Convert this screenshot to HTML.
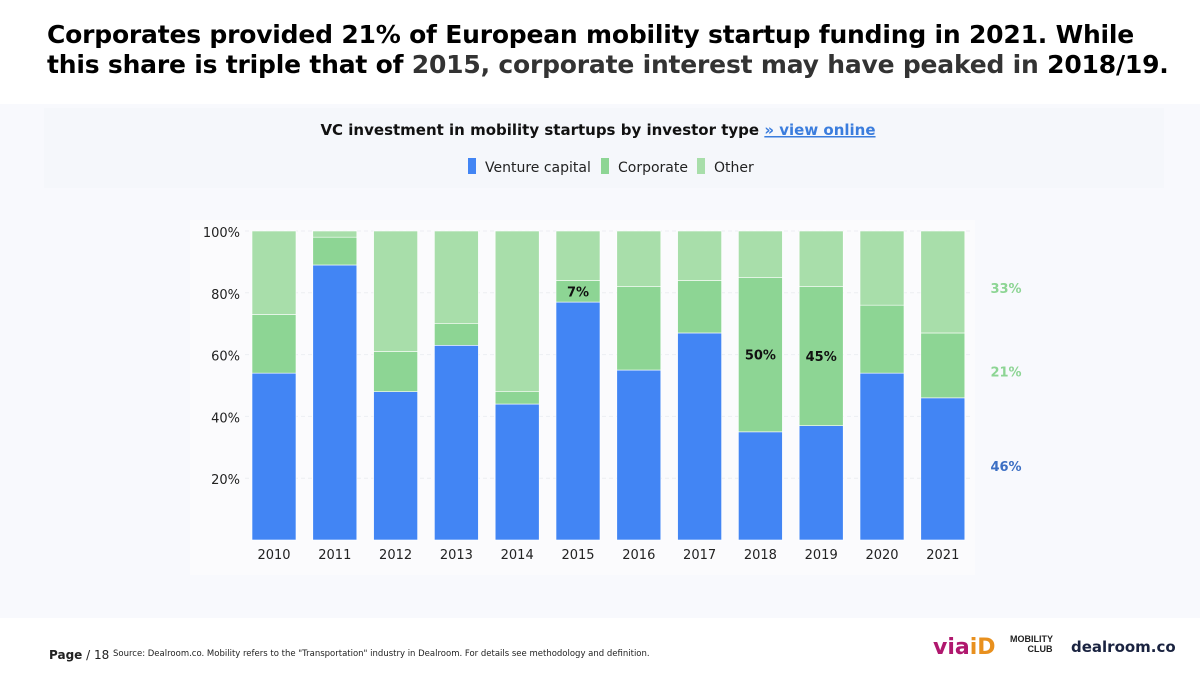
<!DOCTYPE html>
<html><head><meta charset="utf-8"><style>
body{margin:0;width:1200px;height:675px;overflow:hidden;background:#f8f9fd;font-family:"DejaVu Sans","Liberation Sans",sans-serif;position:relative}
#hdr{position:absolute;left:0;top:0;width:1200px;height:104px;background:#fff}
#title{position:absolute;left:47px;top:20px;font-size:25px;font-weight:bold;line-height:30px;color:#000;margin:0;letter-spacing:-0.2px}
#ftr{position:absolute;left:0;top:618px;width:1200px;height:57px;background:#fff}
</style></head><body>
<div id="hdr"></div>
<h1 id="title">Corporates provided 21% of European mobility startup funding in 2021. While<br>this share is triple that of <span style="color:#333">2015, corporate interest may have peaked in</span> 2018/19.</h1>
<div id="ftr">
<div style="position:absolute;left:49px;top:30px;font-size:12px;color:#222"><b>Page</b> / 18</div>
<div style="position:absolute;left:113px;top:31px;font-size:8.5px;color:#222">Source: Dealroom.co.  Mobility refers to the "Transportation" industry in Dealroom. For details see methodology and definition.</div>
<div style="position:absolute;left:933px;top:17px;font-size:22px;font-weight:bold;color:#b0186e">via<span style="color:#e8901e">iD</span></div>
<div style="position:absolute;left:1010px;top:16px;font-size:9px;font-weight:bold;line-height:10px;color:#222;font-family:'Liberation Sans Narrow','Liberation Sans',sans-serif">MOBILITY<br>&nbsp;&nbsp;&nbsp;&nbsp;&nbsp;&nbsp;&nbsp;CLUB</div>
<div style="position:absolute;left:1071px;top:20px;font-size:15px;font-weight:bold;color:#1a2340">dealroom.co</div>
</div>
<svg id="chart" width="1200" height="675" style="position:absolute;left:0;top:0">
<rect x="44" y="108" width="1120" height="80" fill="#f5f7fb"/>
<text x="598" y="135" text-anchor="middle" font-size="15" font-weight="bold" fill="#111">VC investment in mobility startups by investor type <tspan fill="#3b7ddd" text-decoration="underline">» view online</tspan></text>
<g id="legend"></g>
<rect x="190" y="220" width="785" height="355" fill="#fbfbfd"/>
<g id="grid"></g><g id="bars"></g><g id="labels"></g>
</svg>
<script>
const years=["2010","2011","2012","2013","2014","2015","2016","2017","2018","2019","2020","2021"];
const vc=[54,89,48,63,44,77,55,67,35,37,54,46];
const corporate=[19,9,13,7,4,7,27,17,50,45,22,21];
const yTicks=[20,40,60,80,100];
const seriesNames=["Venture capital","Corporate","Other"];
const colors=["#4285f4","#8dd594","#a8deaa"];
const NS="http://www.w3.org/2000/svg";
const y0=540,y1=231,x0=274,step=60.8,bw=44;
const Y=v=>y0-(y0-y1)*v/100;
const X=i=>x0+i*step;
function mk(t,a,p){const e=document.createElementNS(NS,t);for(const k in a)e.setAttribute(k,a[k]);p.appendChild(e);return e;}
const grid=document.getElementById('grid'),bars=document.getElementById('bars'),labels=document.getElementById('labels'),legend=document.getElementById('legend');
yTicks.forEach(t=>{
 const l=mk('line',{x1:245,x2:970,y1:Y(t),y2:Y(t),stroke:'#eceef2','stroke-dasharray':'4 3'},grid);
 
 
 const tx=mk('text',{x:240,y:Y(t)+6,'text-anchor':'end','font-size':13,fill:'#222'},grid);
 tx.textContent=t+'%';
 
 
});
years.forEach((yr,i)=>{
 const segs=[[0,vc[i]],[vc[i],vc[i]+corporate[i]],[vc[i]+corporate[i],100]];
 segs.forEach((s,j)=>{
  const r=mk('rect',{x:X(i)-bw/2,y:Y(s[1]),width:bw,height:Y(s[0])-Y(s[1]),fill:colors[j],stroke:'#fff','stroke-width':0.6},bars);
  
  
 });
 const tx=mk('text',{x:X(i),y:559,'text-anchor':'middle','font-size':13,fill:'#222'},labels);
 tx.textContent=yr;
 
 
 if(yr==="2015"||yr==="2018"||yr==="2019"){
  const lb=mk('text',{x:X(i),y:Y(vc[i]+corporate[i]/2)+5,'text-anchor':'middle','font-size':13,'font-weight':'bold',fill:'#111'},labels);
  lb.textContent=corporate[i]+'%';
  
  
 }
});
const last=years.length-1;
const rv=[[vc[last]/2+1,vc[last],'#3c6fc4'],[vc[last]+corporate[last]/2-2,corporate[last],'#8dd594'],[(vc[last]+corporate[last]+100)/2-2,100-vc[last]-corporate[last],'#8dd594']];
rv.forEach(r=>{
 const t=mk('text',{x:1006,y:Y(r[0])+5,'text-anchor':'middle','font-size':13,'font-weight':'bold',fill:r[2]},labels);
 t.textContent=r[1]+'%';
 
 
});
const lx=[468,601,697];
seriesNames.forEach((n,i)=>{
 const r=mk('rect',{x:lx[i],y:158,width:8,height:16,fill:colors[i]},legend);
 
 
 const t=mk('text',{x:lx[i]+17,y:172,'font-size':14,fill:'#222'},legend);
 t.textContent=n;
 
 
});
</script>
</body></html>
